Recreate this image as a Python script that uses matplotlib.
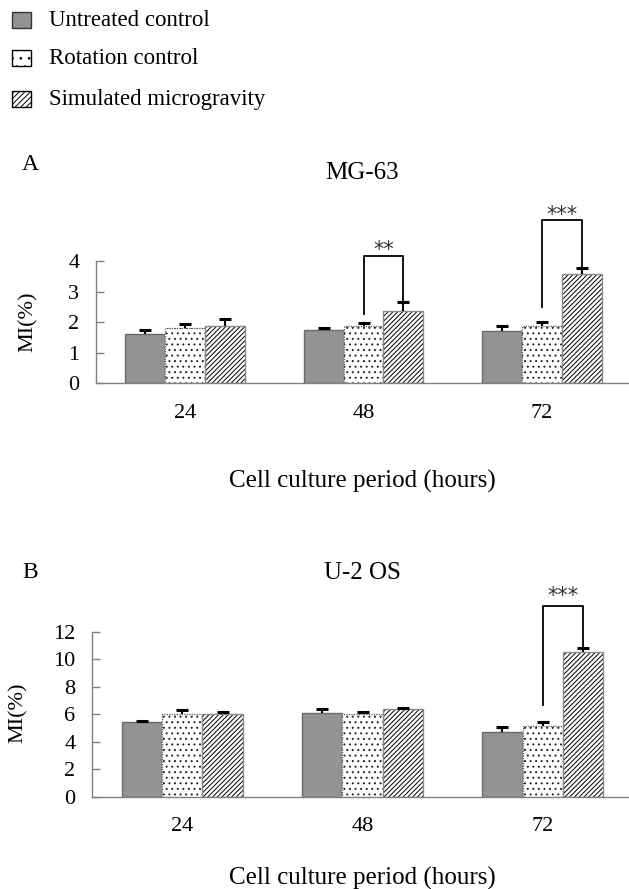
import matplotlib
matplotlib.use("Agg")
import matplotlib.pyplot as plt
import numpy as np
from matplotlib.patches import Rectangle

plt.rcParams['font.family'] = ['Liberation Serif', 'DejaVu Serif']
plt.rcParams['hatch.linewidth'] = 0.7

# ---- data ----
periods = ["24", "48", "72"]
series = ["Untreated control", "Rotation control", "Simulated microgravity"]

mg63_untreated = [1.60, 1.74, 1.72]
mg63_untreated_err = [0.14, 0.08, 0.15]
mg63_rotation = [1.80, 1.86, 1.86]
mg63_rotation_err = [0.13, 0.11, 0.15]
mg63_smg = [1.87, 2.35, 3.59]
mg63_smg_err = [0.23, 0.32, 0.19]

u2os_untreated = [5.41, 6.06, 4.73]
u2os_untreated_err = [0.09, 0.32, 0.32]
u2os_rotation = [5.99, 5.99, 5.14]
u2os_rotation_err = [0.29, 0.19, 0.27]
u2os_smg = [5.99, 6.35, 10.50]
u2os_smg_err = [0.17, 0.12, 0.34]

# significance brackets: (group index, left bottom, top, right bottom, label, label baseline)
mg63_sig = [(1, 2.27, 4.17, 2.67, "**", 4.17), (2, 2.50, 5.34, 3.80, "***", 5.30)]
u2os_sig = [(2, 6.67, 13.87, 10.90, "***", 14.15)]

W, H = 629, 889
fig = plt.figure(figsize=(W / 100, H / 100), dpi=100)

def fx(x):
    return x / W

def fy(y):
    return 1 - y / H

GRAY_FILL = "#939393"
GRAY_EDGE = "#6a6a6a"
LIGHT_EDGE = "#8a8a8a"
SPINE = "#808080"
FS = 16


def errbars(ax, xs, vals, errs):
    vals = np.asarray(vals)
    tops = vals + np.asarray(errs)
    ax.vlines(xs, vals, tops, colors="black", linewidth=1.5, zorder=3)
    ax.plot(xs, tops, linestyle="none", marker="_", markersize=8.5,
            markeredgewidth=2.2, color="black", zorder=3)


def panel(rect, u, ue, r, re, s, se, ylim, yticks, sig):
    ax = fig.add_axes(rect)
    x = np.arange(len(periods))
    bw = 0.224
    # untreated
    ax.bar(x - bw, u, bw, color=GRAY_FILL, edgecolor=GRAY_EDGE, linewidth=1.0, zorder=2)
    errbars(ax, x - bw, u, ue)
    # rotation (dots)
    ax.bar(x, r, bw, color="white", edgecolor="#222222", linewidth=0, hatch="...", zorder=2)
    ax.bar(x, r, bw, fill=False, edgecolor="#555555", linewidth=0.9,
           linestyle=(0, (1, 1)), zorder=2.5)
    errbars(ax, x, r, re)
    # simulated microgravity (diagonal)
    ax.bar(x + bw, s, bw, color="white", edgecolor="black", linewidth=0,
           hatch="///////", zorder=2)
    ax.bar(x + bw, s, bw, fill=False, edgecolor=LIGHT_EDGE, linewidth=1.0, zorder=2.5)
    errbars(ax, x + bw, s, se)

    for g, lb, top, rb, lab, ly in sig:
        xl, xr = g, g + bw
        ax.plot([xl, xl, xr, xr], [lb, top, top, rb], color="black", lw=1.3,
                clip_on=False, zorder=4)
        ax.text((xl + xr) / 2, ly, lab, ha="center", va="baseline", fontsize=15,
                family="DejaVu Sans", color="#333333", clip_on=False)

    ax.set_xlim(-0.5, 2.5)
    ax.set_ylim(*ylim)
    ax.set_yticks(yticks)
    ax.set_xticks(x)
    ax.set_xticklabels(periods)
    for sp in ("top", "right"):
        ax.spines[sp].set_visible(False)
    for sp in ("left", "bottom"):
        ax.spines[sp].set_color(SPINE)
        ax.spines[sp].set_linewidth(1.0)
    ax.tick_params(axis="y", direction="in", length=6, color=SPINE, width=1.0,
                   pad=12, labelsize=FS)
    ax.tick_params(axis="x", length=0, pad=15, labelsize=FS)
    ax.set_facecolor("none")
    return ax

# Panel A: axis x 96..631, y0 at 383.3, y=4 at 261
panel([fx(96), fy(383.3), (631 - 96) / W, (383.3 - 261) / H],
      mg63_untreated, mg63_untreated_err, mg63_rotation, mg63_rotation_err,
      mg63_smg, mg63_smg_err, (0, 4), [0, 1, 2, 3, 4], mg63_sig)

# Panel B: axis x 92..633, y0 at 796.5, y=12 at 631.7
panel([fx(92), fy(796.5), (633 - 92) / W, (796.5 - 631.7) / H],
      u2os_untreated, u2os_untreated_err, u2os_rotation, u2os_rotation_err,
      u2os_smg, u2os_smg_err, (0, 12), [0, 2, 4, 6, 8, 10, 12], u2os_sig)

# Panel texts
fig.text(fx(30), fy(165), "A", fontsize=17, ha="center", va="center")
fig.text(fx(362), fy(173), "MG-63", fontsize=18, ha="center", va="center")
fig.text(fx(28), fy(322), "MI(%)", fontsize=FS, ha="center", va="center", rotation=90)
fig.text(fx(362), fy(481), "Cell culture period (hours)", fontsize=18, ha="center", va="center")

fig.text(fx(30), fy(572), "B", fontsize=17, ha="center", va="center")
fig.text(fx(362), fy(573), "U-2 OS", fontsize=18, ha="center", va="center")
fig.text(fx(18), fy(713), "MI(%)", fontsize=FS, ha="center", va="center", rotation=90)
fig.text(fx(362), fy(878), "Cell culture period (hours)", fontsize=18, ha="center", va="center")

# Legend (manual, top-left)
leg_styles = [
    dict(facecolor=GRAY_FILL, edgecolor="#333333", hatch=None),
    dict(facecolor="white", edgecolor="black", hatch=".."),
    dict(facecolor="white", edgecolor="black", hatch="//////"),
]
leg_rows = [20, 58, 99]
for name, st, yc in zip(series, leg_styles, leg_rows):
    pw, ph = 19, 15
    rect = Rectangle((fx(12), fy(yc + ph / 2)), pw / W, ph / H, transform=fig.transFigure,
                     facecolor=st["facecolor"], edgecolor=st["edgecolor"],
                     hatch=st["hatch"], linewidth=1.0)
    fig.add_artist(rect)
    fig.text(fx(49), fy(yc), name, fontsize=16.5, ha="left", va="center")

fig.savefig("out.png", dpi=100)
